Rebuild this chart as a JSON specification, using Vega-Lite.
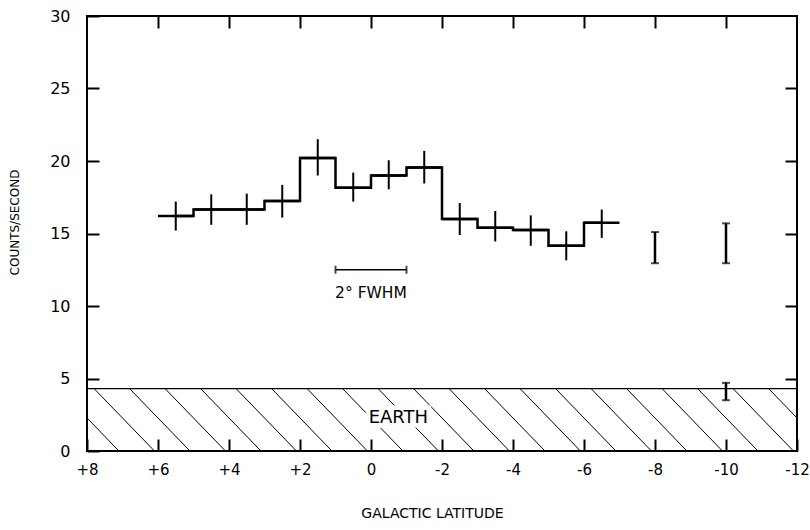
{
  "$schema": "https://vega.github.io/schema/vega-lite/v6.json",
  "width": 710,
  "height": 435,
  "autosize": {"type": "none"},
  "padding": {"left": 87, "top": 16, "right": 13, "bottom": 79},
  "background": "white",
  "config": {
    "view": {"stroke": "black", "strokeWidth": 2},
    "font": "DejaVu Sans",
    "axis": {"grid": false, "domain": false, "tickColor": "black", "tickWidth": 2, "labelColor": "black", "titleColor": "black", "titleFontWeight": "normal"}
  },
  "datasets": {
    "bins": [
      {"c": 5.5, "b0": 6, "b1": 5, "rate": 16.2, "lo": 15.2, "hi": 17.2},
      {"c": 4.5, "b0": 5, "b1": 4, "rate": 16.65, "lo": 15.6, "hi": 17.7},
      {"c": 3.5, "b0": 4, "b1": 3, "rate": 16.65, "lo": 15.6, "hi": 17.75},
      {"c": 2.5, "b0": 3, "b1": 2, "rate": 17.25, "lo": 16.1, "hi": 18.35},
      {"c": 1.5, "b0": 2, "b1": 1, "rate": 20.2, "lo": 19.0, "hi": 21.5},
      {"c": 0.5, "b0": 1, "b1": 0, "rate": 18.15, "lo": 17.2, "hi": 19.2},
      {"c": -0.5, "b0": 0, "b1": -1, "rate": 19.0, "lo": 18.05, "hi": 20.05},
      {"c": -1.5, "b0": -1, "b1": -2, "rate": 19.55, "lo": 18.45, "hi": 20.7},
      {"c": -2.5, "b0": -2, "b1": -3, "rate": 16.0, "lo": 14.9, "hi": 17.1},
      {"c": -3.5, "b0": -3, "b1": -4, "rate": 15.4, "lo": 14.45, "hi": 16.55},
      {"c": -4.5, "b0": -4, "b1": -5, "rate": 15.25, "lo": 14.15, "hi": 16.25},
      {"c": -5.5, "b0": -5, "b1": -6, "rate": 14.15, "lo": 13.15, "hi": 15.15},
      {"c": -6.5, "b0": -6, "b1": -7, "rate": 15.75, "lo": 14.7, "hi": 16.65}
    ],
    "isolated": [
      {"c": -8, "lo": 12.95, "hi": 15.1},
      {"c": -10, "lo": 12.95, "hi": 15.7},
      {"c": -10, "lo": 3.5, "hi": 4.7}
    ],
    "earth": [{"x0": 8, "x1": -12, "level": 4.3}],
    "hatch": [
      {"xa": 8, "ya": 2.28, "xb": 7.1, "yb": 0},
      {"xa": 7.8, "ya": 4.3, "xb": 6.1, "yb": 0},
      {"xa": 6.8, "ya": 4.3, "xb": 5.1, "yb": 0},
      {"xa": 5.8, "ya": 4.3, "xb": 4.1, "yb": 0},
      {"xa": 4.8, "ya": 4.3, "xb": 3.1, "yb": 0},
      {"xa": 3.8, "ya": 4.3, "xb": 2.1, "yb": 0},
      {"xa": 2.8, "ya": 4.3, "xb": 1.1, "yb": 0},
      {"xa": 1.8, "ya": 4.3, "xb": 0.1, "yb": 0},
      {"xa": 0.8, "ya": 4.3, "xb": -0.9, "yb": 0},
      {"xa": -0.2, "ya": 4.3, "xb": -1.9, "yb": 0},
      {"xa": -1.2, "ya": 4.3, "xb": -2.9, "yb": 0},
      {"xa": -2.2, "ya": 4.3, "xb": -3.9, "yb": 0},
      {"xa": -3.2, "ya": 4.3, "xb": -4.9, "yb": 0},
      {"xa": -4.2, "ya": 4.3, "xb": -5.9, "yb": 0},
      {"xa": -5.2, "ya": 4.3, "xb": -6.9, "yb": 0},
      {"xa": -6.2, "ya": 4.3, "xb": -7.9, "yb": 0},
      {"xa": -7.2, "ya": 4.3, "xb": -8.9, "yb": 0},
      {"xa": -8.2, "ya": 4.3, "xb": -9.9, "yb": 0},
      {"xa": -9.2, "ya": 4.3, "xb": -10.9, "yb": 0},
      {"xa": -10.2, "ya": 4.3, "xb": -11.9, "yb": 0},
      {"xa": -11.2, "ya": 4.3, "xb": -12, "yb": 2.28}
    ],
    "fwhm": [{"x0": 1, "x1": -1, "y": 12.5}],
    "fwhmEnds": [{"x": 1, "y": 12.5}, {"x": -1, "y": 12.5}],
    "labels": [{"txt": "EARTH", "x": -0.77, "y": 2.25}],
    "fwhmLabel": [{"txt": "2° FWHM", "x": 0, "y": 10.9}]
  },
  "layer": [
    {
      "data": {"name": "hatch"},
      "mark": {"type": "rule", "color": "black", "strokeWidth": 1},
      "encoding": {
        "x": {"field": "xa", "type": "quantitative",
              "scale": {"domain": [-12, 8], "reverse": true, "nice": false, "zero": false},
              "axis": {"orient": "bottom", "values": [8, 6, 4, 2, 0, -2, -4, -6, -8, -10, -12],
                       "labelExpr": "datum.value > 0 ? '+' + datum.value : '' + datum.value",
                       "tickSize": -12, "labelPadding": 23, "labelFontSize": 15, "labelFlush": false,
                       "title": "GALACTIC LATITUDE", "titleFontSize": 14, "titleX": 345, "titleY": 62, "titleBaseline": "middle"}},
        "x2": {"field": "xb"},
        "y": {"field": "ya", "type": "quantitative",
              "scale": {"domain": [0, 30], "nice": false},
              "axis": {"orient": "left", "values": [0, 5, 10, 15, 20, 25, 30],
                       "tickSize": -12, "labelPadding": 29, "labelFontSize": 16, "labelFlush": false,
                       "title": "COUNTS/SECOND", "titleFontSize": 12, "titleX": -73, "titleY": 206, "titleAngle": -90, "titleBaseline": "middle", "titleAlign": "center"}},
        "y2": {"field": "yb"}
      }
    },
    {
      "data": {"name": "earth"},
      "mark": {"type": "rule", "color": "black", "strokeWidth": 1.2},
      "encoding": {
        "x": {"field": "x0", "type": "quantitative",
              "axis": {"orient": "top", "values": [6, 4, 2, 0, -2, -4, -6, -8, -10], "labels": false, "tickSize": -12, "title": null}},
        "x2": {"field": "x1"},
        "y": {"field": "level", "type": "quantitative",
              "axis": {"orient": "right", "values": [5, 10, 15, 20, 25], "labels": false, "tickSize": -12, "title": null}}
      }
    },
    {
      "data": {"name": "labels"},
      "mark": {"type": "text", "fontSize": 18, "stroke": "white", "strokeWidth": 9, "fill": "white"},
      "encoding": {
        "x": {"field": "x", "type": "quantitative", "axis": null},
        "y": {"field": "y", "type": "quantitative", "axis": null},
        "text": {"field": "txt"}
      }
    },
    {
      "data": {"name": "labels"},
      "mark": {"type": "text", "fontSize": 18, "color": "black"},
      "encoding": {
        "x": {"field": "x", "type": "quantitative", "axis": null},
        "y": {"field": "y", "type": "quantitative", "axis": null},
        "text": {"field": "txt"}
      }
    },
    {
      "data": {"name": "bins"},
      "mark": {"type": "rule", "color": "black", "strokeWidth": 2.5},
      "encoding": {
        "x": {"field": "b0", "type": "quantitative", "axis": null},
        "x2": {"field": "b1"},
        "y": {"field": "rate", "type": "quantitative", "axis": null}
      }
    },
    {
      "data": {"name": "bins"},
      "mark": {"type": "line", "color": "black", "strokeWidth": 2.5, "interpolate": "step"},
      "encoding": {
        "x": {"field": "c", "type": "quantitative", "axis": null},
        "y": {"field": "rate", "type": "quantitative", "axis": null}
      }
    },
    {
      "data": {"name": "bins"},
      "mark": {"type": "rule", "color": "black", "strokeWidth": 2},
      "encoding": {
        "x": {"field": "c", "type": "quantitative", "axis": null},
        "y": {"field": "lo", "type": "quantitative", "axis": null},
        "y2": {"field": "hi"}
      }
    },
    {
      "data": {"name": "isolated"},
      "mark": {"type": "rule", "color": "black", "strokeWidth": 2.5},
      "encoding": {
        "x": {"field": "c", "type": "quantitative", "axis": null},
        "y": {"field": "lo", "type": "quantitative", "axis": null},
        "y2": {"field": "hi"}
      }
    },
    {
      "data": {"name": "isolated"},
      "mark": {"type": "tick", "color": "black", "orient": "horizontal", "size": 8, "thickness": 2},
      "encoding": {
        "x": {"field": "c", "type": "quantitative", "axis": null},
        "y": {"field": "lo", "type": "quantitative", "axis": null}
      }
    },
    {
      "data": {"name": "isolated"},
      "mark": {"type": "tick", "color": "black", "orient": "horizontal", "size": 8, "thickness": 2},
      "encoding": {
        "x": {"field": "c", "type": "quantitative", "axis": null},
        "y": {"field": "hi", "type": "quantitative", "axis": null}
      }
    },
    {
      "data": {"name": "fwhm"},
      "mark": {"type": "rule", "color": "black", "strokeWidth": 1.5},
      "encoding": {
        "x": {"field": "x0", "type": "quantitative", "axis": null},
        "x2": {"field": "x1"},
        "y": {"field": "y", "type": "quantitative", "axis": null}
      }
    },
    {
      "data": {"name": "fwhmEnds"},
      "mark": {"type": "tick", "color": "black", "orient": "vertical", "size": 8, "thickness": 2},
      "encoding": {
        "x": {"field": "x", "type": "quantitative", "axis": null},
        "y": {"field": "y", "type": "quantitative", "axis": null}
      }
    },
    {
      "data": {"name": "fwhmLabel"},
      "mark": {"type": "text", "fontSize": 15.5, "color": "black"},
      "encoding": {
        "x": {"field": "x", "type": "quantitative", "axis": null},
        "y": {"field": "y", "type": "quantitative", "axis": null},
        "text": {"field": "txt"}
      }
    }
  ],
  "resolve": {"axis": {"x": "independent", "y": "independent"}}
}
